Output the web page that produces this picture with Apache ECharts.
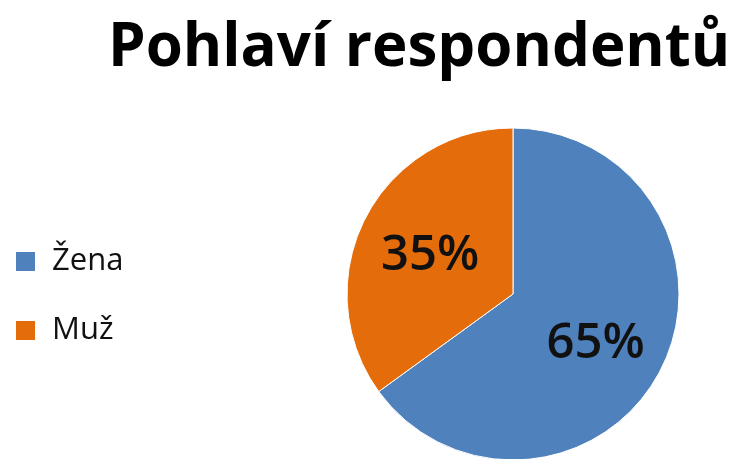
<!DOCTYPE html>
<html><head><meta charset="utf-8">
<script src="https://cdn.jsdelivr.net/npm/echarts@6/dist/echarts.min.js"></script>
<style>html,body{margin:0;padding:0;background:#fff}#c{width:734px;height:459px}</style>
</head><body><div id="c"></div>
<script>
const titleText = 'Pohlaví respondentů';
const categories = ['Žena', 'Muž'];
const values = [65, 35];
const colors = ['#4F81BD', '#E46C0A'];

const CX = 513, CY = 294, R = 166;
const chart = echarts.init(document.getElementById('c'));
chart.setOption({
  backgroundColor: '#fff',
  animation: false,
  title: {
    text: titleText, left: 103, top: 14,
    textStyle: { fontFamily: 'Open Sans', fontWeight: 'bold', fontSize: 60, color: '#000' }
  },
  legend: {
    orient: 'vertical', left: 9, top: 241,
    itemWidth: 21, itemHeight: 21, itemGap: 38,
    icon: 'rect',
    data: categories,
    textStyle: { fontFamily: 'Open Sans', fontSize: 31, color: '#111', padding: [0, 0, 0, 11] }
  },
  series: [{
    type: 'pie',
    center: [CX, CY], radius: R,
    startAngle: 90, clockwise: true,
    data: categories.map((c, i) => ({ name: c, value: values[i], itemStyle: { color: colors[i] } })),
    itemStyle: { borderColor: '#fff', borderWidth: 1 },
    label: {
      show: true, position: 'inside',
      formatter: '{d}%',
      fontFamily: 'Open Sans', fontWeight: 600, fontSize: 49, color: '#111'
    },
    labelLayout: function (p) {
      const lx = p.labelRect.x + p.labelRect.width / 2;
      const ly = p.labelRect.y + p.labelRect.height / 2;
      return { dx: (lx - CX) * 0.08, dy: (ly - CY) * 0.12 + 6 };
    },
    labelLine: { show: false },
    emphasis: { disabled: true }
  }]
});
</script></body></html>
